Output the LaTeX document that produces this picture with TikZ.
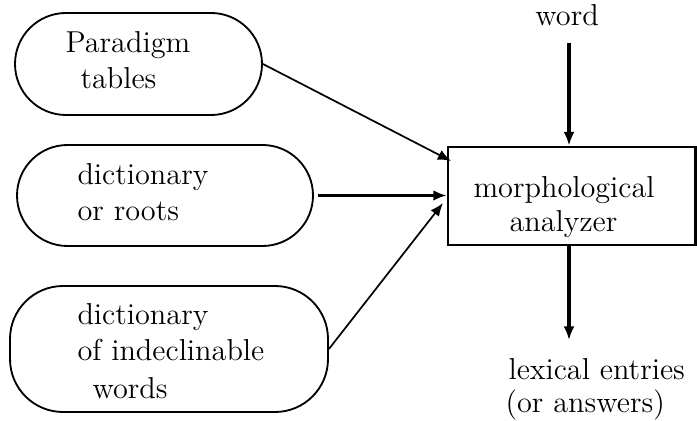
\documentclass[tikz,border=0pt]{standalone}
\usetikzlibrary{arrows.meta}
\begin{document}
\begin{tikzpicture}[x=0.38pt,y=-0.38pt,
  lbl/.style={inner sep=0pt, anchor=base west, font=\fontsize{11.5}{13.7}\selectfont},
  stadium/.style={draw, line width=0.7pt, rectangle, inner sep=0pt},
  anbox/.style={draw, line width=1.1pt, rectangle, inner sep=0pt, minimum width=94.05pt, minimum height=37.24pt},
  thinarrow/.style={line width=0.65pt, -{Latex[length=5pt,width=4pt]}},
  thickarrow/.style={line width=1.25pt, -{Latex[length=5.2pt,width=4.2pt]}}
]
\useasboundingbox (0,0) rectangle (697,421);

% input boxes
\node[stadium, minimum width=93.86pt, minimum height=38.76pt, rounded corners=19.38pt] (b1) at (138.5,64) {};
\node[stadium, minimum width=112.48pt, minimum height=38.38pt, rounded corners=19.19pt] (b2) at (165,195.5) {};
\node[stadium, minimum width=120.84pt, minimum height=47.88pt, rounded corners=20.14pt] (b3) at (169,349) {};

\node[lbl] (t1a) at (65,53) {Paradigm};
\node[lbl] (t1b) at (80,89) {tables};
\node[lbl] (t2a) at (77,185) {dictionary};
\node[lbl] (t2b) at (77,221) {or roots};
\node[lbl] (t3a) at (77,325) {dictionary};
\node[lbl] (t3b) at (77,361) {of indeclinable};
\node[lbl] (t3c) at (92,398) {words};

% analyzer
\node[anbox] (an) at (571.75,196) {};
\node[lbl] (ta) at (473,198) {morphological};
\node[lbl] (tb) at (509,232) {analyzer};

% word and outputs
\node[lbl, anchor=base] (word) at (567,26) {word};
\node[lbl] (out1) at (508,380) {lexical entries};
\node[lbl] (out2) at (505,412) {(or answers)};

\coordinate (in1) at (451,161);
\coordinate (in3) at (443,203);

\draw[thinarrow] (b1.east) -- (in1);
\draw[thinarrow, line width=0.9pt, shorten <=1.5pt] (b2.east) -- (b2.east -| an.west);
\draw[thinarrow] (b3.east) -- (in3);

\draw[thickarrow, shorten <=6pt] (word.south -| 569,0) -- (569,0 |- an.north);
\draw[thickarrow, shorten >=7pt] (569,0 |- an.south) -- (569,0 |- out1.north);
\end{tikzpicture}
\end{document}
